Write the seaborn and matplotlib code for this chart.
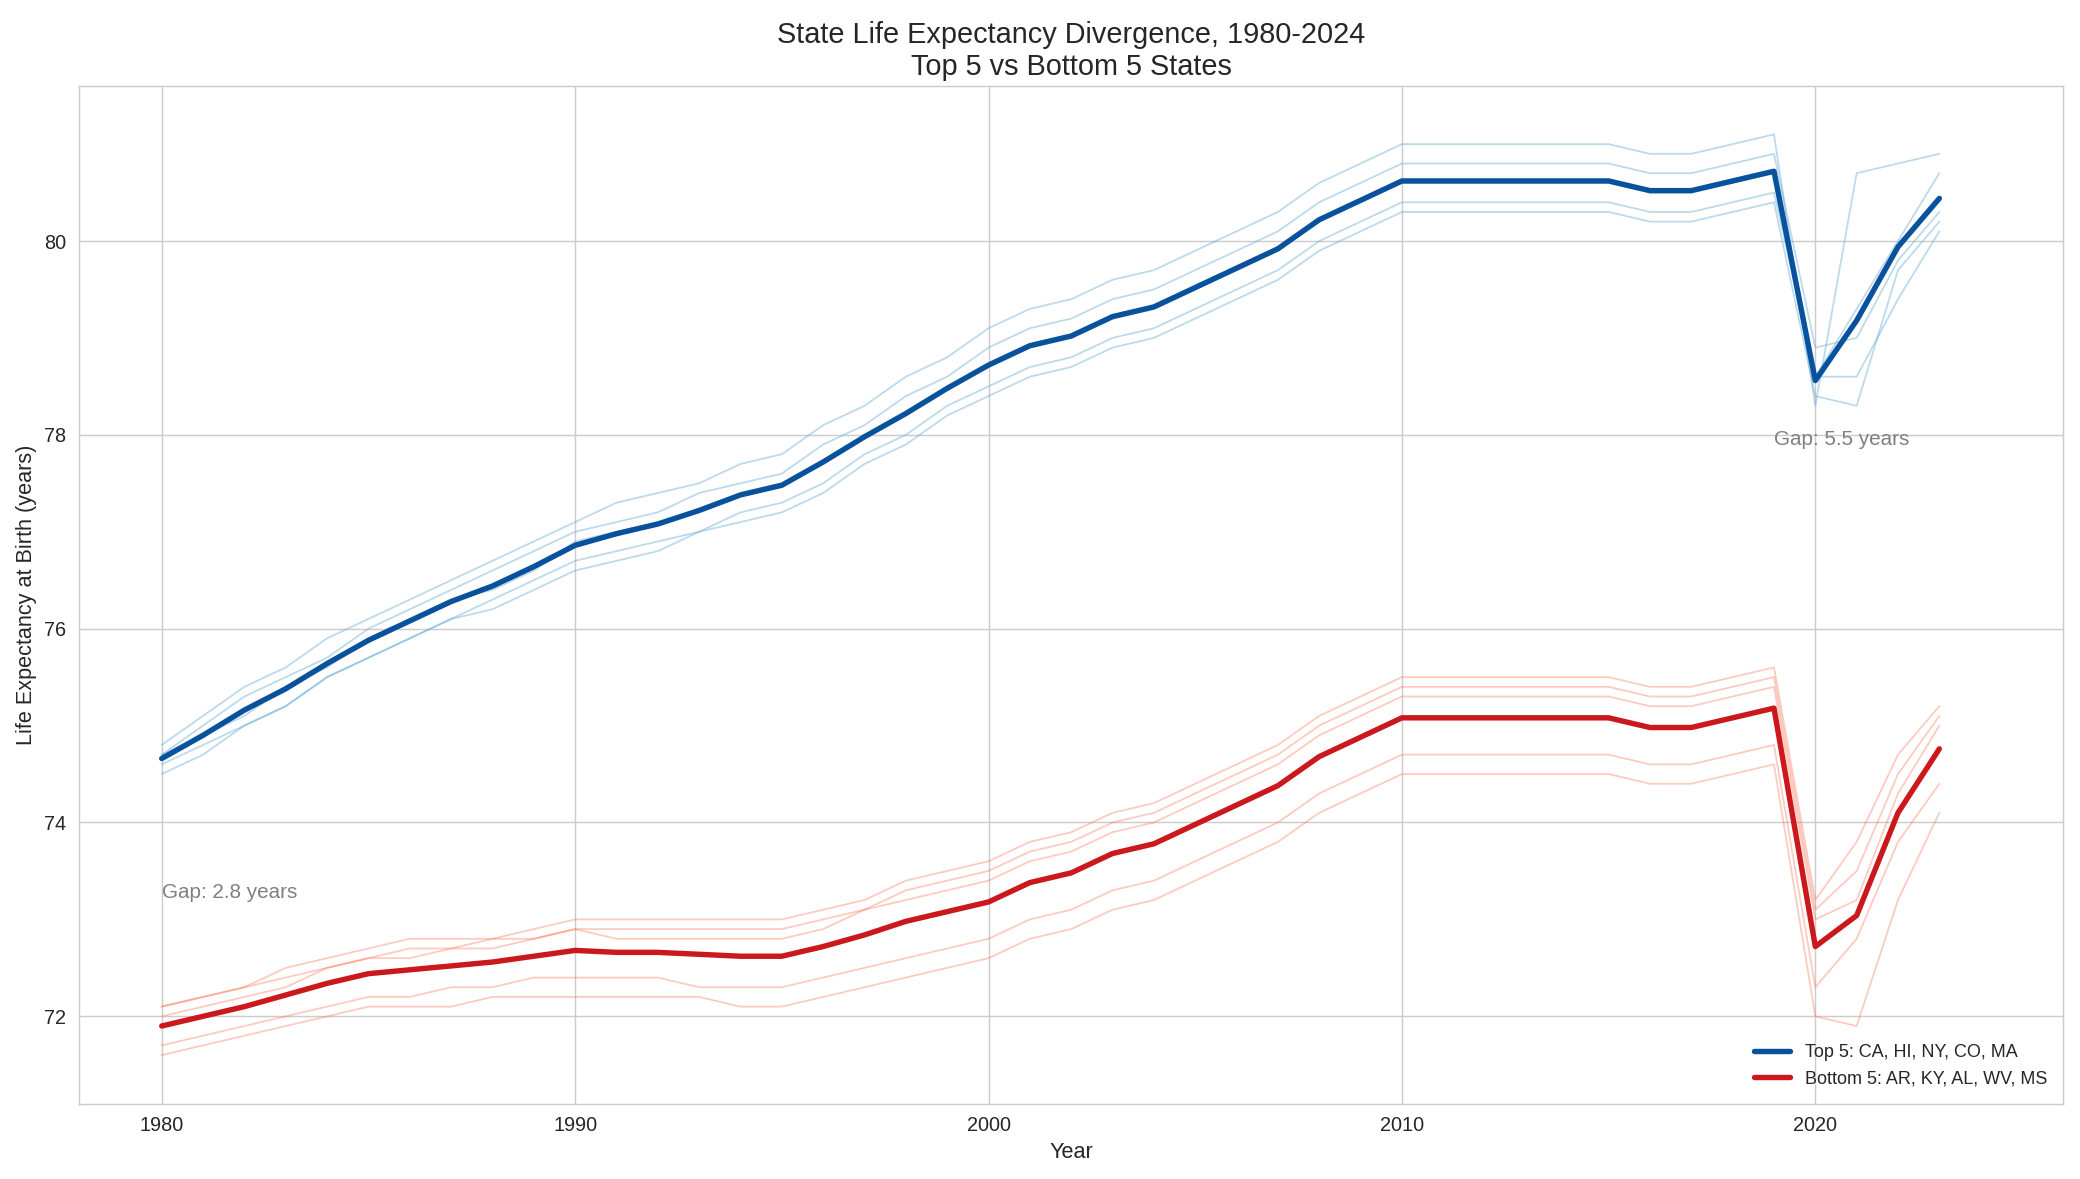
import numpy as np
import pandas as pd
import matplotlib
matplotlib.use('Agg')
import matplotlib.pyplot as plt
import seaborn as sns

# life expectancy at birth, 1980-2023
years = list(range(1980, 2024))

top_states = ['CA', 'HI', 'NY', 'CO', 'MA']
bottom_states = ['AR', 'KY', 'AL', 'WV', 'MS']

# top 5
ca = [74.8, 75.1, 75.4, 75.6, 75.9, 76.1, 76.3, 76.5, 76.7, 76.9,
      77.1, 77.3, 77.4, 77.5, 77.7, 77.8, 78.1, 78.3, 78.6, 78.8,
      79.1, 79.3, 79.4, 79.6, 79.7, 79.9, 80.1, 80.3, 80.6, 80.8,
      81.0, 81.0, 81.0, 81.0, 81.0, 81.0, 80.9, 80.9, 81.0, 81.1,
      78.3, 80.7, 80.8, 80.9]
hi = [74.7, 75.0, 75.3, 75.5, 75.7, 76.0, 76.2, 76.4, 76.6, 76.8,
      77.0, 77.1, 77.2, 77.4, 77.5, 77.6, 77.9, 78.1, 78.4, 78.6,
      78.9, 79.1, 79.2, 79.4, 79.5, 79.7, 79.9, 80.1, 80.4, 80.6,
      80.8, 80.8, 80.8, 80.8, 80.8, 80.8, 80.7, 80.7, 80.8, 80.9,
      78.9, 79.0, 79.8, 80.3]
ny = [74.7, 74.9, 75.1, 75.4, 75.6, 75.9, 76.1, 76.3, 76.4, 76.6,
      76.9, 77.0, 77.1, 77.2, 77.4, 77.5, 77.7, 78.0, 78.2, 78.5,
      78.7, 78.9, 79.0, 79.2, 79.3, 79.5, 79.7, 79.9, 80.2, 80.4,
      80.6, 80.6, 80.6, 80.6, 80.6, 80.6, 80.5, 80.5, 80.6, 80.7,
      78.6, 79.3, 80.0, 80.7]
co = [74.6, 74.8, 75.0, 75.2, 75.5, 75.7, 75.9, 76.1, 76.3, 76.5,
      76.7, 76.8, 76.9, 77.0, 77.2, 77.3, 77.5, 77.8, 78.0, 78.3,
      78.5, 78.7, 78.8, 79.0, 79.1, 79.3, 79.5, 79.7, 80.0, 80.2,
      80.4, 80.4, 80.4, 80.4, 80.4, 80.4, 80.3, 80.3, 80.4, 80.5,
      78.6, 78.6, 79.4, 80.1]
ma = [74.5, 74.7, 75.0, 75.2, 75.5, 75.7, 75.9, 76.1, 76.2, 76.4,
      76.6, 76.7, 76.8, 77.0, 77.1, 77.2, 77.4, 77.7, 77.9, 78.2,
      78.4, 78.6, 78.7, 78.9, 79.0, 79.2, 79.4, 79.6, 79.9, 80.1,
      80.3, 80.3, 80.3, 80.3, 80.3, 80.3, 80.2, 80.2, 80.3, 80.4,
      78.4, 78.3, 79.7, 80.2]

# bottom 5
ar = [72.1, 72.2, 72.3, 72.5, 72.6, 72.7, 72.8, 72.8, 72.8, 72.9,
      73.0, 73.0, 73.0, 73.0, 73.0, 73.0, 73.1, 73.2, 73.4, 73.5,
      73.6, 73.8, 73.9, 74.1, 74.2, 74.4, 74.6, 74.8, 75.1, 75.3,
      75.5, 75.5, 75.5, 75.5, 75.5, 75.5, 75.4, 75.4, 75.5, 75.6,
      73.2, 73.8, 74.7, 75.2]
ky = [72.1, 72.2, 72.3, 72.4, 72.5, 72.6, 72.6, 72.7, 72.7, 72.8,
      72.9, 72.9, 72.9, 72.9, 72.9, 72.9, 73.0, 73.1, 73.2, 73.3,
      73.4, 73.6, 73.7, 73.9, 74.0, 74.2, 74.4, 74.6, 74.9, 75.1,
      75.3, 75.3, 75.3, 75.3, 75.3, 75.3, 75.2, 75.2, 75.3, 75.4,
      73.0, 73.2, 74.3, 75.0]
al = [72.0, 72.1, 72.2, 72.3, 72.5, 72.6, 72.7, 72.7, 72.8, 72.8,
      72.9, 72.8, 72.8, 72.8, 72.8, 72.8, 72.9, 73.1, 73.3, 73.4,
      73.5, 73.7, 73.8, 74.0, 74.1, 74.3, 74.5, 74.7, 75.0, 75.2,
      75.4, 75.4, 75.4, 75.4, 75.4, 75.4, 75.3, 75.3, 75.4, 75.5,
      73.1, 73.5, 74.5, 75.1]
wv = [71.7, 71.8, 71.9, 72.0, 72.1, 72.2, 72.2, 72.3, 72.3, 72.4,
      72.4, 72.4, 72.4, 72.3, 72.3, 72.3, 72.4, 72.5, 72.6, 72.7,
      72.8, 73.0, 73.1, 73.3, 73.4, 73.6, 73.8, 74.0, 74.3, 74.5,
      74.7, 74.7, 74.7, 74.7, 74.7, 74.7, 74.6, 74.6, 74.7, 74.8,
      72.3, 72.8, 73.8, 74.4]
ms = [71.6, 71.7, 71.8, 71.9, 72.0, 72.1, 72.1, 72.1, 72.2, 72.2,
      72.2, 72.2, 72.2, 72.2, 72.1, 72.1, 72.2, 72.3, 72.4, 72.5,
      72.6, 72.8, 72.9, 73.1, 73.2, 73.4, 73.6, 73.8, 74.1, 74.3,
      74.5, 74.5, 74.5, 74.5, 74.5, 74.5, 74.4, 74.4, 74.5, 74.6,
      72.0, 71.9, 73.2, 74.1]

gap_years = [1980, 2019]


def to_long(series, states):
    frames = []
    for st, vals in zip(states, series):
        frames.append(pd.DataFrame({'year': years, 'state': st, 'life_exp': vals}))
    return pd.concat(frames, ignore_index=True)


df_top = to_long([ca, hi, ny, co, ma], top_states)
df_bot = to_long([ar, ky, al, wv, ms], bottom_states)

sns.set_style('whitegrid')
plt.rcParams['font.family'] = ['Liberation Sans', 'DejaVu Sans']

fig, ax = plt.subplots(figsize=(16, 9.07), dpi=130)

# individual states
sns.lineplot(data=df_top, x='year', y='life_exp', units='state', estimator=None,
             color='#6baed6', alpha=0.45, lw=1, ax=ax, legend=False)
sns.lineplot(data=df_bot, x='year', y='life_exp', units='state', estimator=None,
             color='#fb6a4a', alpha=0.35, lw=1, ax=ax, legend=False)

# group averages
sns.lineplot(data=df_top, x='year', y='life_exp', errorbar=None, color='#08519c',
             lw=3, ax=ax, label='Top 5: ' + ', '.join(top_states))
sns.lineplot(data=df_bot, x='year', y='life_exp', errorbar=None, color='#cb181d',
             lw=3, ax=ax, label='Bottom 5: ' + ', '.join(bottom_states))

top_mean = df_top.groupby('year')['life_exp'].mean()
bot_mean = df_bot.groupby('year')['life_exp'].mean()
for yr in gap_years:
    gap = top_mean[yr] - bot_mean[yr]
    ax.text(yr, (top_mean[yr] + bot_mean[yr]) / 2, f'Gap: {gap:.1f} years',
            ha='left', va='center', fontsize=11.5, color='gray')

ax.set_xlim(1978, 2026)
ax.set_ylim(71.1, 81.6)
ax.set_title('State Life Expectancy Divergence, 1980-2024\nTop 5 vs Bottom 5 States', fontsize=16)
ax.set_xlabel('Year', fontsize=12)
ax.set_ylabel('Life Expectancy at Birth (years)', fontsize=12)
ax.tick_params(labelsize=11)
ax.legend(loc='lower right', fontsize=10, frameon=False)

plt.subplots_adjust(left=0.038, right=0.992, top=0.927, bottom=0.064)
plt.savefig('out.png', dpi=130)
